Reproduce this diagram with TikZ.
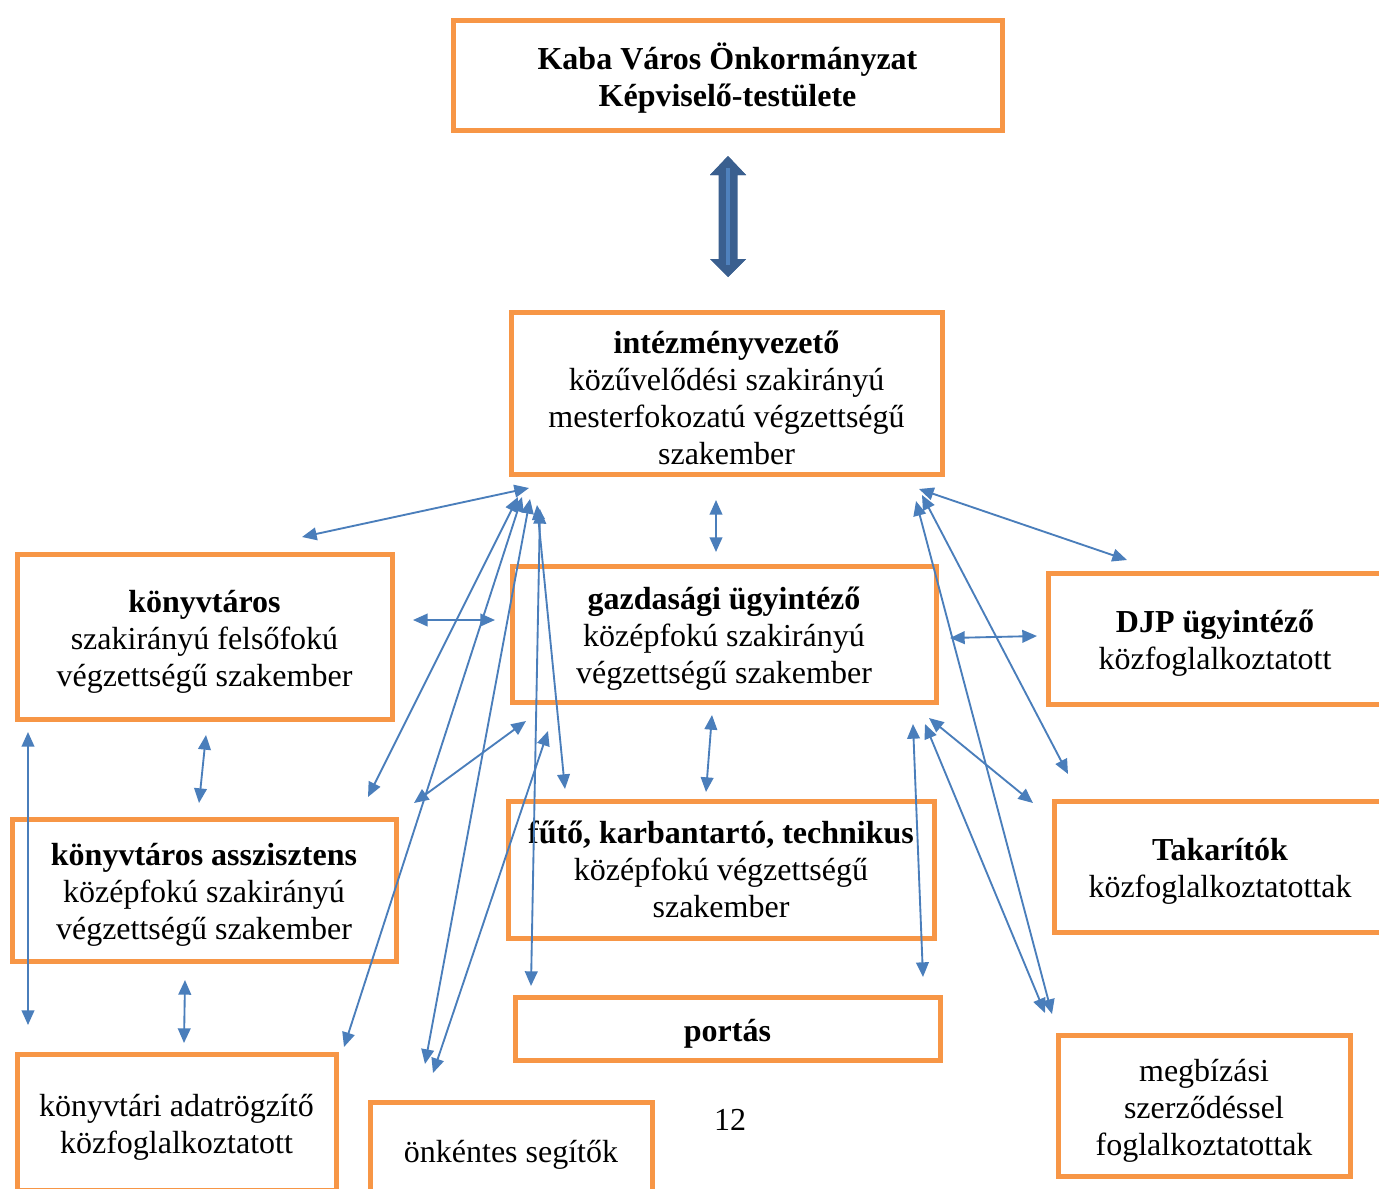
\documentclass[tikz,border=0pt]{standalone}
\usepackage{fontspec}
\setmainfont{Liberation Serif}
\usetikzlibrary{arrows.meta}
\definecolor{boxorange}{HTML}{F79646}
\definecolor{arrowblue}{HTML}{4A7EBB}
\definecolor{bigdark}{HTML}{3A5F8F}
\definecolor{biglight}{HTML}{4F81BD}
\newcommand{\mytopstrut}{\rule{0pt}{24.5pt}}
\tikzset{
  box/.style 2 args={draw=boxorange, line width=3.75pt, inner sep=0pt,
    minimum width=#1*0.75pt, minimum height=#2*0.75pt, align=center,
    font=\fontsize{24pt}{27.75pt}\selectfont},
  conn/.style={draw=arrowblue, line width=1.4pt,
    {Triangle[length=11pt,width=9.5pt]}-{Triangle[length=11pt,width=9.5pt]}},
}
\begin{document}
\begin{tikzpicture}[x=0.75pt,y=-0.75pt]
\clip (0,0) rectangle (1379,1189);
\fill[white] (0,0) rectangle (1379,1189);

% boxes
\node[box={549}{110}] (kaba) at (727.5,75) {\mytopstrut\textbf{Kaba Város Önkormányzat}\\\textbf{Képviselő-testülete}};
\node[box={431}{162}] (intez) at (726.5,393) {\mytopstrut\textbf{intézményvezető}\\közűvelődési szakirányú\\mesterfokozatú végzettségű\\szakember};
\node[box={375}{165}] (konyv) at (204.5,636.5) {\mytopstrut\textbf{könyvtáros}\\szakirányú felsőfokú\\végzettségű szakember};
\node[box={424}{136}] (gazd) at (724,634) {\mytopstrut\textbf{gazdasági ügyintéző}\\középfokú szakirányú\\végzettségű szakember};
\node[box={334}{131}] (djp) at (1215,638.5) {\mytopstrut\textbf{DJP ügyintéző}\\közfoglalkoztatott};
\node[box={384}{142}] (asszt) at (204,890) {\mytopstrut\textbf{könyvtáros asszisztens}\\középfokú szakirányú\\végzettségű szakember};
\node[box={426}{137}] (futo) at (721,869.5) {\textbf{fűtő, karbantartó, technikus}\\középfokú végzettségű\\szakember};
\node[box={332}{131}] (takar) at (1220,866.5) {\mytopstrut\textbf{Takarítók}\\közfoglalkoztatottak};
\node[box={425}{63}] (portas) at (727.5,1028.5) {\mytopstrut\textbf{portás}};
\node[box={319}{136}] (adat) at (176.5,1122) {\mytopstrut könyvtári adatrögzítő\\közfoglalkoztatott};
\node[box={282}{96}] (onk) at (511,1150) {\mytopstrut önkéntes segítők};
\node[box={292}{141}] (megb) at (1204,1105.5) {\mytopstrut megbízási\\szerződéssel\\foglalkoztatottak};
\node[font=\fontsize{24pt}{27.75pt}\selectfont, inner sep=0pt] (page) at (730,1120) {12};

% big double arrow between kaba and intez
\coordinate (bigtop) at (728,156);
\coordinate (bigbot) at (728,277);
\fill[bigdark] (bigtop) -- (746,175) -- (737.5,175) -- (737.5,259) -- (746,259) -- (bigbot)
  -- (710,259) -- (718.5,259) -- (718.5,175) -- (710,175) -- cycle;
\fill[bigdark] (bigtop) -- (746,175) -- (710,175) -- cycle;
\fill[bigdark] (bigbot) -- (746,259) -- (710,259) -- cycle;
\draw[biglight, line width=3pt] (728,168) -- (728,265);

% endpoint coordinates
\coordinate (h1) at (529,488);
\coordinate (h2) at (518,497);
\coordinate (h3) at (522,497);
\coordinate (h4) at (530,499);
\coordinate (h5) at (537,505);
\coordinate (h6) at (540,509);
\coordinate (k1) at (302,537);
\coordinate (k2) at (413,620);
\coordinate (g1) at (495,620);
\coordinate (a1) at (368,797);
\coordinate (d1) at (344,1047);
\coordinate (o1) at (425,1064);
\coordinate (o2) at (433,1073);
\coordinate (f1) at (565,789);
\coordinate (p1) at (531,986);
\coordinate (g2) at (548,731);
\coordinate (g3) at (526,721);
\coordinate (a2) at (414,803);
\coordinate (i1) at (716,500);
\coordinate (g4) at (716,552);
\coordinate (g5) at (712,715);
\coordinate (f2) at (706,792);
\coordinate (k3) at (206,735);
\coordinate (a3) at (199,803);
\coordinate (a4) at (185,980);
\coordinate (d2) at (184,1043);
\coordinate (k4) at (28,732);
\coordinate (d3) at (28,1025);
\coordinate (r1) at (919,489);
\coordinate (r2) at (922,495);
\coordinate (r3) at (916,501);
\coordinate (dj1) at (1127,560);
\coordinate (g6) at (950,638);
\coordinate (dj2) at (1037,636);
\coordinate (t1) at (1068,774);
\coordinate (m1) at (1052,1014);
\coordinate (g7) at (929,718);
\coordinate (t2) at (1033,803);
\coordinate (g8) at (925,724);
\coordinate (m2) at (1045,1013);
\coordinate (g9) at (913,724);
\coordinate (p2) at (923,977);

% connectors
\draw[conn] (h1) -- (k1);
\draw[conn] (k2) -- (g1);
\draw[conn] (h2) -- (a1);
\draw[conn] (h3) -- (d1);
\draw[conn] (h4) -- (o1);
\draw[conn] (h5) -- (f1);
\draw[conn] (h6) -- (p1);
\draw[conn] (g2) -- (o2);
\draw[conn] (g3) -- (a2);
\draw[conn] (i1) -- (g4);
\draw[conn] (g5) -- (f2);
\draw[conn] (k3) -- (a3);
\draw[conn] (a4) -- (d2);
\draw[conn] (k4) -- (d3);
\draw[conn] (r1) -- (dj1);
\draw[conn] (g6) -- (dj2);
\draw[conn] (r2) -- (t1);
\draw[conn] (r3) -- (m1);
\draw[conn] (g7) -- (t2);
\draw[conn] (g8) -- (m2);
\draw[conn] (g9) -- (p2);
\end{tikzpicture}
\end{document}
